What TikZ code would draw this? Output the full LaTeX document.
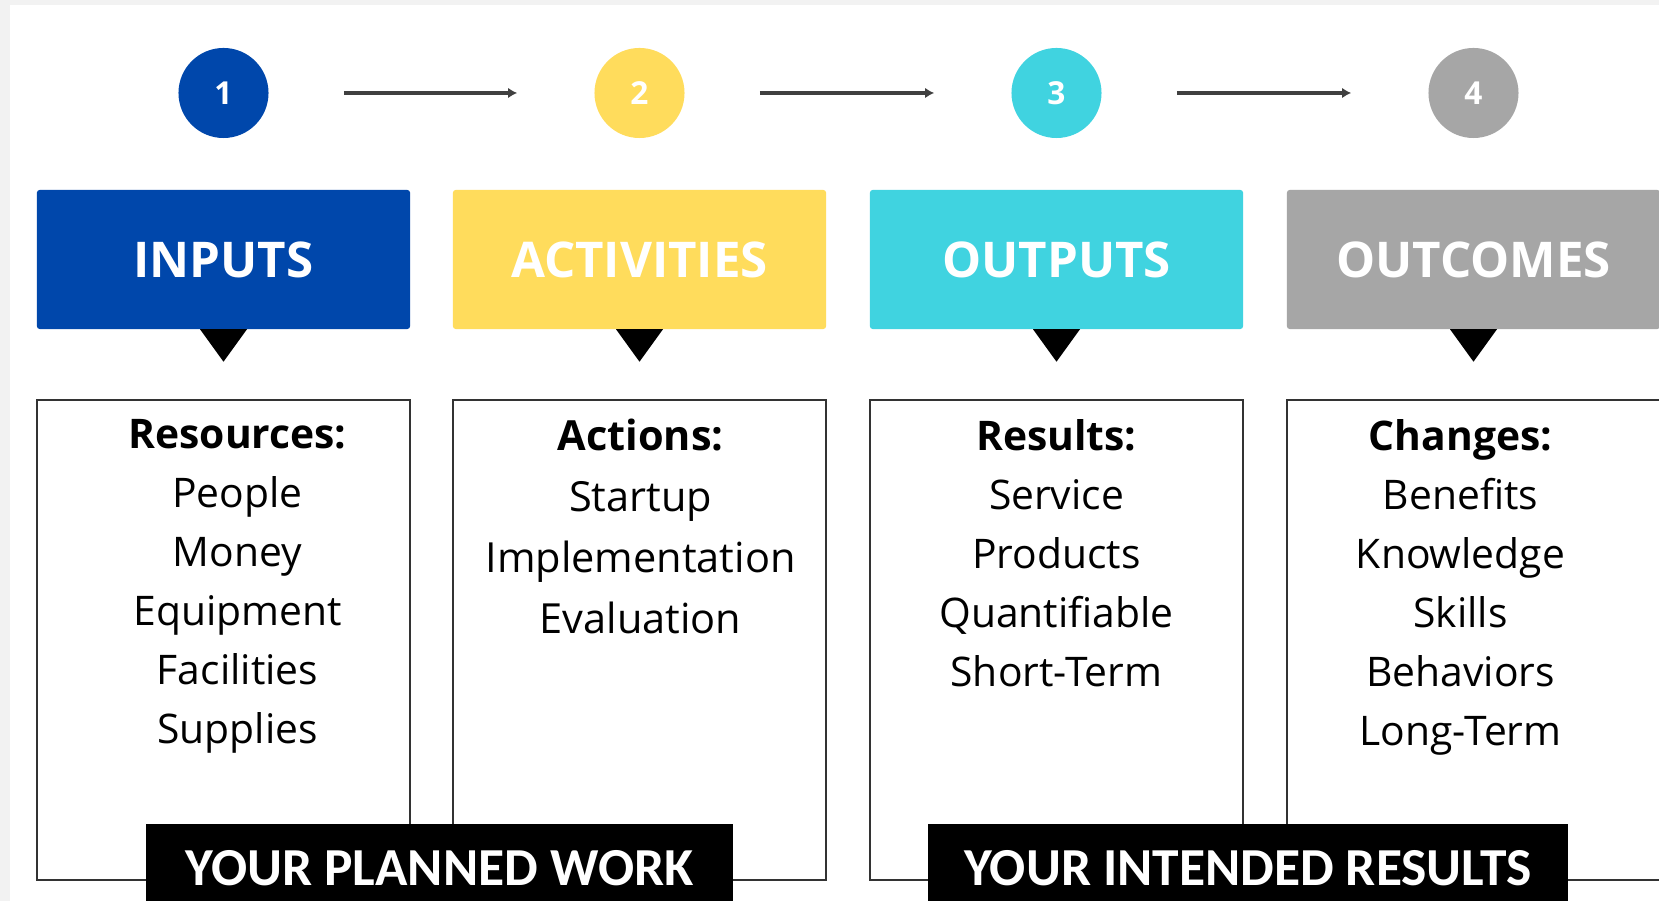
\documentclass[tikz,border=0pt]{standalone}
\usepackage{fontspec}
\setmainfont{Open Sans}
\newfontfamily\bannerfont{Carlito}
\usepackage{tikz}
\usetikzlibrary{calc}
\usetikzlibrary{arrows.meta}
\usetikzlibrary{positioning}
\definecolor{stepblue}{HTML}{0047AB}
\definecolor{stepyellow}{HTML}{FFDC5C}
\definecolor{stepcyan}{HTML}{40D3E0}
\definecolor{stepgray}{HTML}{A6A6A6}
\definecolor{framegray}{HTML}{F2F2F2}

\begin{document}
\begin{tikzpicture}[
x=0.01cm,y=-0.01cm,
MyCircles/.style={circle,minimum size=9mm,inner sep=0,text=white,font=\fontsize{9}{10}\selectfont\bfseries},
MyHeads/.style={rectangle,rounded corners=0.8pt,minimum width=37.3mm,minimum height=13.9mm,inner sep=0,text=white,font=\fontsize{14}{16}\selectfont\bfseries},
MyBoxes/.style={rectangle,draw=black!80,line width=0.65pt,minimum width=37.3mm,minimum height=48mm,inner sep=0},
MyLists/.style={align=center,inner sep=0,anchor=north,font=\fontsize{11.6}{16.8}\selectfont},
MyBanners/.style={fill=black,text=white,inner sep=0,minimum height=8.8mm,font=\bannerfont\fontsize{15.2}{17}\selectfont\bfseries},
Flow/.style={draw=black!75,line width=0.9pt,-{Latex[length=2.6pt,width=3pt]},shorten <=7.45mm,shorten >=7.65mm}
]
\useasboundingbox (0,0) rectangle (1659,901);
\fill[framegray] (0,0) rectangle (1659,901);
\fill[white] (10,5) rectangle (1659,901);

% numbered steps
\node[MyCircles,fill=stepblue]   (c1) at (223.5,93) {1};
\node[MyCircles,fill=stepyellow] (c2) at (639.5,93) {2};
\node[MyCircles,fill=stepcyan]   (c3) at (1056.5,93) {3};
\node[MyCircles,fill=stepgray]   (c4) at (1473.5,93) {4};

\foreach \i/\j in {1/2,2/3,3/4}
  \draw[Flow] (c\i) -- (c\j);

% headings
\node[MyHeads,fill=stepblue]   (h1) at (223.5,259.5) {INPUTS};
\node[MyHeads,fill=stepyellow] (h2) at (639.5,259.5) {ACTIVITIES};
\node[MyHeads,fill=stepcyan]   (h3) at (1056.5,259.5) {OUTPUTS};
\node[MyHeads,fill=stepgray]   (h4) at (1473.5,259.5) {OUTCOMES};

\foreach \i in {1,...,4}
  \fill[black] ($(h\i.south)+(-23.5,-0.5)$) -- ($(h\i.south)+(23.5,-0.5)$) -- ($(h\i.south)+(0,32)$) -- cycle;

% lists
\node[MyBoxes] (b1) at (223.5,640) {};
\node[MyBoxes] (b2) at (639.5,640) {};
\node[MyBoxes] (b3) at (1056.5,640) {};
\node[MyBoxes] (b4) at (1473.5,640) {};

\node[MyLists] (t1) at ($(b1.north)+(14,20)$) {\textbf{Resources:}\\People\\Money\\Equipment\\Facilities\\Supplies};
\node[MyLists,font=\fontsize{11.8}{17.3}\selectfont] (t2) at ($(b2.north)+(1,20)$) {\textbf{Actions:}\\Startup\\Implementation\\Evaluation};
\node[MyLists] (t3) at ($(b3.north)+(0,20)$) {\textbf{Results:}\\Service\\Products\\Quantifiable\\Short-Term};
\node[MyLists] (t4) at ($(b4.north)+(-13,20)$) {\textbf{Changes:}\\Benefits\\Knowledge\\Skills\\Behaviors\\Long-Term};

% banners
\node[MyBanners,minimum width=58.7mm] (l1) at (439.5,868) {YOUR PLANNED WORK};
\node[MyBanners,minimum width=64mm]   (l2) at (1248,868) {YOUR INTENDED RESULTS};

\end{tikzpicture}
\end{document}
